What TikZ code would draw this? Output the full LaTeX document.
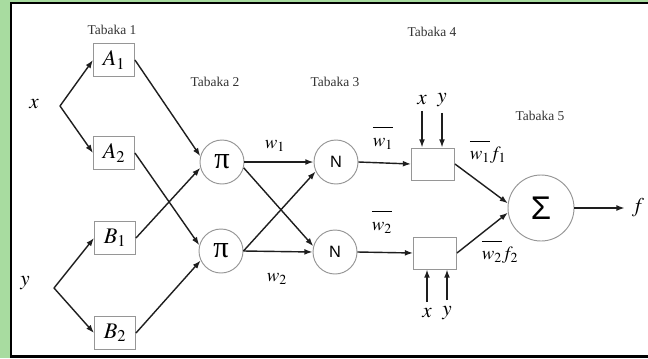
\documentclass[tikz,border=0pt]{standalone}
\usepackage{mathptmx}
\usepackage{fontspec}
\setmainfont{Liberation Serif}
\setsansfont{Liberation Sans}
\usepackage{tikz}
\usetikzlibrary{arrows.meta, positioning, calc}

\definecolor{framegreen}{RGB}{168,220,160}
\definecolor{ringgray}{RGB}{150,150,150}
\definecolor{linkgray}{RGB}{30,30,30}

\tikzset{
  layerlabel/.style={
    font=\fontsize{11.5}{12}\selectfont, text=black!80, inner sep=0pt
  },
  mfbox/.style={
    draw=ringgray, line width=0.8pt, minimum width=1.23cm,
    minimum height=0.99cm, inner sep=0pt, font=\fontsize{19}{20}\selectfont
  },
  rulebox/.style={
    draw=ringgray, line width=0.8pt, minimum width=1.29cm,
    minimum height=0.96cm, inner sep=0pt
  },
  opcircle/.style={
    circle, draw=ringgray, line width=0.8pt, minimum size=1.32cm,
    inner sep=0pt, font=\fontsize{26}{28}\selectfont
  },
  sumcircle/.style={
    circle, draw=ringgray, line width=0.8pt, minimum size=1.98cm,
    inner sep=0pt, font=\sffamily\fontsize{28}{30}\selectfont
  },
  mathlabel/.style={font=\fontsize{18}{20}\selectfont, inner sep=0pt},
  wlabel/.style={font=\fontsize{16}{18}\selectfont, inner sep=0pt},
  link/.style={-{Latex[length=7pt,width=5pt]}, line width=1.2pt, draw=linkgray},
}

\begin{document}
\begin{tikzpicture}[x=0.03cm, y=-0.03cm]
  \useasboundingbox (0,0) rectangle (648,358);

  % === Frame ===
  \fill[framegreen] (0,0) rectangle (648,358);
  \fill[white] (11,3) rectangle (648,356);
  \draw[line width=1.8pt] (648,3) -- (11,3) -- (11,356.5) -- (648,356.5);

  % === Layer titles ===
  \node[layerlabel] (tab1) at (112,30) {Tabaka 1};
  \node[layerlabel] (tab2) at (215,82) {Tabaka 2};
  \node[layerlabel] (tab3) at (335,82) {Tabaka 3};
  \node[layerlabel] (tab4) at (432,32) {Tabaka 4};
  \node[layerlabel] (tab5) at (540,116) {Tabaka 5};

  % === Inputs ===
  \node[mathlabel] (xin) at (34,104) {$x$};
  \coordinate (xfork) at (60,106);
  \node[mathlabel] (yin) at (25,283) {$y$};
  \coordinate (yfork) at (54,288);

  % === Layer 1 ===
  \node[mfbox] (A1) at (114,60) {$A_1$};
  \node[mfbox] (A2) at (114,153) {$A_2$};
  \node[mfbox] (B1) at (115,238) {$B_1$};
  \node[mfbox] (B2) at (115,333) {$B_2$};

  % === Layers 2 and 3 ===
  \node[opcircle] (pi1) at (222,162) {π};
  \node[opcircle] (pi2) at (221,251) {π};
  \node[opcircle, font=\sffamily\fontsize{14}{16}\selectfont] (n1) at (336,162) {N};
  \node[opcircle, font=\sffamily\fontsize{14}{16}\selectfont] (n2) at (335,252) {N};

  % === Layer 4 ===
  \node[rulebox] (r1) at (433,164) {};
  \node[rulebox] (r2) at (435,253) {};
  \node[mathlabel] (xr1) at (422,100) {$x$};
  \node[mathlabel] (yr1) at (442,100) {$y$};
  \node[mathlabel] (xr2) at (427,313) {$x$};
  \node[mathlabel] (yr2) at (447,313) {$y$};

  % === Layer 5 ===
  \node[sumcircle] (sum) at (541,208) {Σ};
  \node[mathlabel] (fout) at (638,208) {$f$};

  % === Weight labels ===
  \node[wlabel] (w1) at (275,146) {$w_1$};
  \node[wlabel] (w2) at (277,279) {$w_2$};
  \node[wlabel] (wn1) at (383,138) {$\overline{\vphantom{A^2}w_1}$};
  \node[wlabel] (wn2) at (382,222) {$\overline{\vphantom{A^2}w_2}$};
  \node[wlabel] (wf1) at (488,152) {$\overline{\vphantom{A^2}w_1}f_1$};
  \node[wlabel] (wf2) at (500,252) {$\overline{\vphantom{A^2}w_2}f_2$};

  % === Arrows ===
  \draw[link] (xfork) -- (A1.west);
  \draw[link] (xfork) -- (A2.west);
  \draw[link] (yfork) -- (B1.west);
  \draw[link] (yfork) -- (B2.west);

  \draw[link] (A1.east) -- (pi1.165);
  \draw[link] (B1.east) -- (pi1.195);
  \draw[link] (A2.east) -- (pi2.165);
  \draw[link] (B2.east) -- (pi2.205);

  \draw[link] (pi1.east) -- (n1.west);
  \draw[link] (pi1.-15) -- (n2.165);
  \draw[link] (pi2.east) -- (n1.205);
  \draw[link] (pi2.east) -- (n2.west);

  \draw[link] (n1.east) -- (r1.west);
  \draw[link] (n2.east) -- (r2.west);
  \draw[link] (xr1.south) ++(0,6) -- (xr1 |- r1.north);
  \draw[link] (yr1.south) ++(0,6) -- (yr1 |- r1.north);
  \draw[link] (xr2.north) ++(0,-6) -- (xr2 |- r2.south);
  \draw[link] (yr2.north) ++(0,-6) -- (yr2 |- r2.south);

  \draw[link] (r1.east) -- (sum.172);
  \draw[link] (r2.east) -- (sum.188);
  \draw[link, shorten >=6pt] (sum.east) -- (fout.west);
\end{tikzpicture}
\end{document}
